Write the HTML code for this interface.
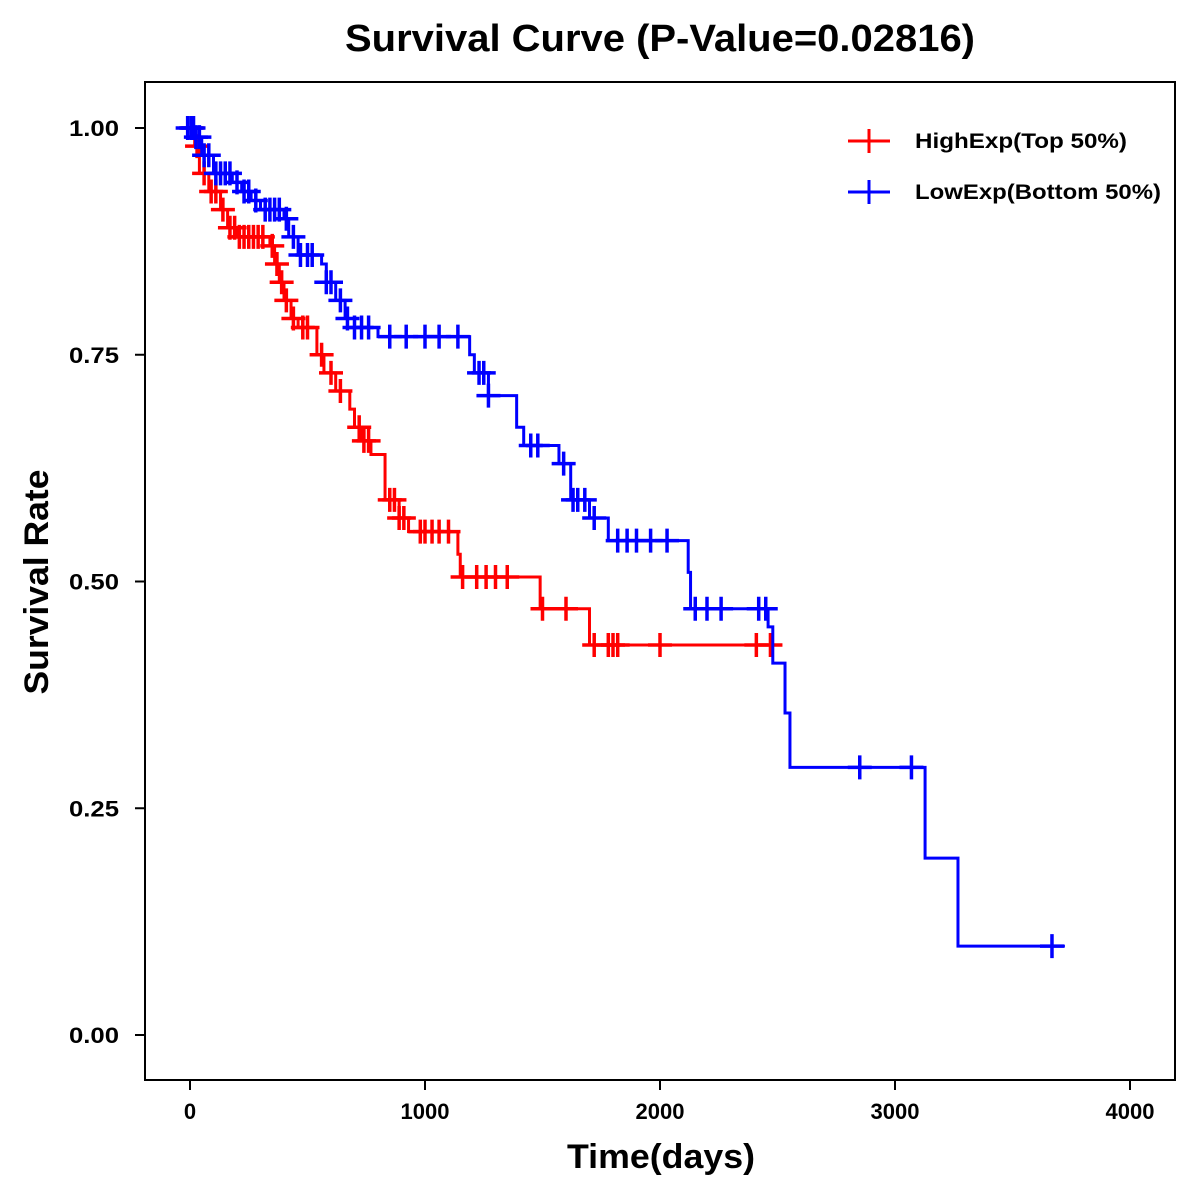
<!DOCTYPE html>
<html><head><meta charset="utf-8"><style>
body{margin:0;background:#fff}
svg{display:block;font-family:"Liberation Sans",Arial,sans-serif;font-weight:bold}
</style></head><body>
<svg id="chart" width="1200" height="1200" viewBox="0 0 1200 1200">
<rect x="0" y="0" width="1200" height="1200" fill="#fff"/>
<text x="660" y="51" text-anchor="middle" font-size="38" textLength="630" lengthAdjust="spacingAndGlyphs">Survival Curve (P-Value=0.02816)</text>
<rect x="145" y="82" width="1030" height="998" fill="none" stroke="#000" stroke-width="2"/>
<text x="661" y="1168" text-anchor="middle" font-size="34" textLength="188" lengthAdjust="spacingAndGlyphs">Time(days)</text>
<text transform="translate(48,582) rotate(-90)" text-anchor="middle" font-size="34" textLength="225" lengthAdjust="spacingAndGlyphs">Survival Rate</text>
<g id="axes"></g>
<g id="series"></g>
<g>
<g>
<line x1="848" y1="141" x2="890" y2="141" stroke="#f00" stroke-width="3"/><line x1="869" y1="129" x2="869" y2="153" stroke="#f00" stroke-width="3"/>
<text x="915" y="148" font-size="21" textLength="212" lengthAdjust="spacingAndGlyphs">HighExp(Top 50%)</text></g>
<g>
<line x1="848" y1="192" x2="890" y2="192" stroke="#00f" stroke-width="3"/><line x1="869" y1="180" x2="869" y2="204" stroke="#00f" stroke-width="3"/>
<text x="915" y="199" font-size="21" textLength="246" lengthAdjust="spacingAndGlyphs">LowExp(Bottom 50%)</text></g>
</g>
</svg>
<script>
const xTicks=[0,1000,2000,3000,4000];
const yTicks=[0,0.25,0.5,0.75,1.0];
const yTickLabels=["0.00","0.25","0.50","0.75","1.00"];
const highTimes=[0,20,40,80,130,160,200,340,360,380,400,430,460,540,570,620,680,700,730,770,830,890,930,1140,1150,1490,1700];
const highSurv=[1.0,0.98,0.95,0.93,0.91,0.89,0.88,0.87,0.85,0.83,0.81,0.79,0.78,0.75,0.73,0.71,0.69,0.67,0.655,0.64,0.59,0.57,0.555,0.53,0.505,0.47,0.43];
const highEnd=2500;
const highCensor=[10,30,60,90,110,140,170,190,210,230,250,270,290,310,350,370,390,410,440,480,500,560,600,640,720,740,760,850,870,890,910,980,1000,1030,1060,1100,1160,1220,1260,1300,1350,1500,1600,1720,1780,1800,1820,2000,2410,2470];
const lowTimes=[0,20,50,100,180,220,260,300,400,420,460,560,580,620,660,700,800,1190,1210,1270,1390,1420,1570,1620,1700,1780,2120,2130,2460,2480,2532,2553,3128,3268];
const lowSurv=[1.0,0.99,0.97,0.95,0.94,0.93,0.92,0.91,0.9,0.88,0.86,0.85,0.83,0.81,0.79,0.78,0.77,0.75,0.73,0.705,0.67,0.65,0.63,0.59,0.57,0.545,0.51,0.47,0.45,0.41,0.355,0.295,0.195,0.098];
const lowEnd=3723;
const lowCensor=[-10,5,15,25,40,60,80,110,130,150,170,200,230,250,280,320,340,360,380,410,440,470,500,520,580,600,640,670,700,730,760,850,920,1000,1060,1140,1230,1250,1270,1450,1480,1590,1630,1650,1680,1720,1820,1860,1900,1960,2030,2150,2200,2260,2420,2450,2850,3070,3668];

const X=t=>190+t*0.235;
const Y=s=>1035-s*907;
const NS="http://www.w3.org/2000/svg";
function mk(tag,attrs,parent){const e=document.createElementNS(NS,tag);for(const k in attrs)e.setAttribute(k,attrs[k]);parent.appendChild(e);return e;}
const axes=document.getElementById('axes');
xTicks.forEach(t=>{
  const g=mk('g',{},axes);
  
  
  mk('line',{x1:X(t),x2:X(t),y1:1080,y2:1090,stroke:'#000','stroke-width':2},g);
  const tx=mk('text',{x:X(t),y:1119,'text-anchor':'middle','font-size':22},g);tx.textContent=t;
});
yTicks.forEach((v,i)=>{
  const g=mk('g',{},axes);
  
  
  mk('line',{x1:135,x2:145,y1:Y(v),y2:Y(v),stroke:'#000','stroke-width':2},g);
  const tx=mk('text',{x:119,y:Y(v)+8,'text-anchor':'end','font-size':22,textLength:50,lengthAdjust:'spacingAndGlyphs'},g);tx.textContent=yTickLabels[i];
});
function survAt(times,surv,t){let s=surv[0];for(let i=0;i<times.length;i++){if(times[i]<=t)s=surv[i];}return s;}
function drawSeries(times,surv,end,cens,color,name){
  const g=mk('g',{},document.getElementById('series'));
  
  
  let d='M'+X(times[0])+','+Y(surv[0]);
  for(let i=1;i<times.length;i++){d+=' H'+X(times[i])+' V'+Y(surv[i]);}
  d+=' H'+X(end);
  const p=mk('path',{d:d,fill:'none',stroke:color,'stroke-width':3},g);
  
  
  cens.forEach(t=>{
    const s=survAt(times,surv,t),cx=X(t),cy=Y(s);
    const c=mk('path',{d:`M${cx-12},${cy} H${cx+12} M${cx},${cy-12} V${cy+12}`,stroke:color,'stroke-width':3.5},g);
    
    
  });
}
drawSeries(highTimes,highSurv,highEnd,highCensor,'#f00','high-exp-series');
drawSeries(lowTimes,lowSurv,lowEnd,lowCensor,'#00f','low-exp-series');
</script>
</body></html>
